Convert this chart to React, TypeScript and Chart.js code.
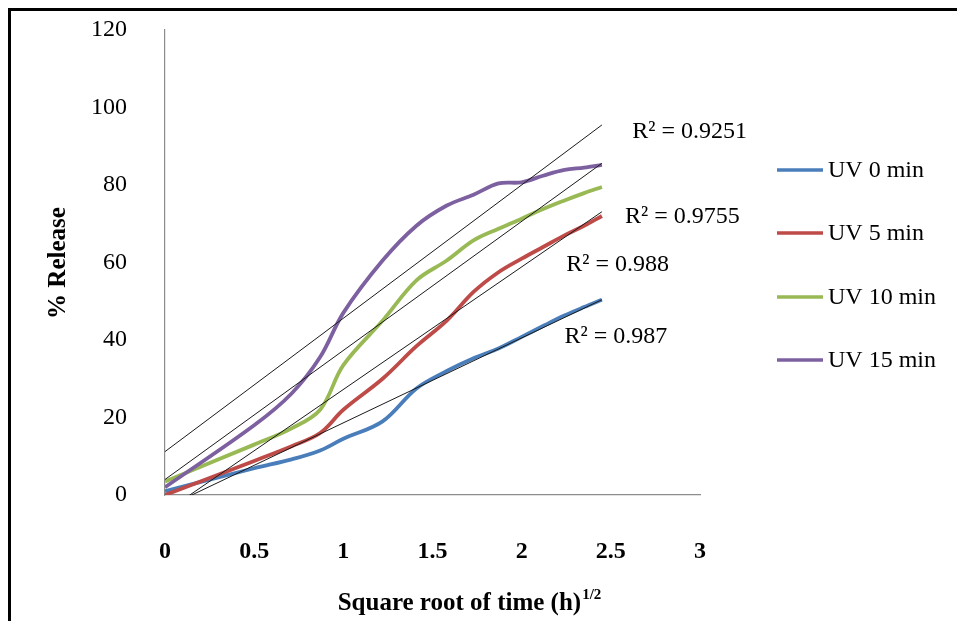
import React, { useEffect, useRef } from "react";
import { Chart, registerables } from "chart.js";

Chart.register(...registerables);

const SERIF = "'Times New Roman', 'Liberation Serif', serif";

// x = square root of time (h)^1/2
const xValues = [0, 0.5, 0.71, 0.87, 1, 1.22, 1.41, 1.58, 1.73, 1.87, 2, 2.12, 2.24, 2.35, 2.45];

const seriesNames = ["UV 0 min", "UV 5 min", "UV 10 min", "UV 15 min"];
const uv0 = [1, 6.9, 9.2, 11.5, 14.5, 19, 27.5, 32, 35.3, 37.8, 40.8, 43.6, 46.3, 48.5, 50.4];
const uv5 = [0, 8.8, 12.6, 16, 22, 30, 38.4, 45, 52.4, 57.5, 61, 64, 67, 69.5, 72];
const uv10 = [3.5, 13, 17.2, 22, 33.5, 45, 55.4, 60.5, 65.7, 68.7, 71.3, 73.8, 76, 77.9, 79.5];
const uv15 = [2, 18, 26.2, 35.6, 47, 60.5, 69.5, 74.7, 77.5, 80.4, 80.7, 82.4, 83.9, 84.5, 85.2];
const seriesColors = ["#4a7ebb", "#be4b48", "#98b954", "#7d60a0"];

// linear trend lines (endpoints)
const trendX = [0, 2.45];
const trendUv0 = [-3.3, 50.4];
const trendUv5 = [-4.4, 73.1];
const trendUv10 = [4.0, 85.6];
const trendUv15 = [11.2, 95.5];

const r2Texts = ["R² = 0.987", "R² = 0.988", "R² = 0.9755", "R² = 0.9251"];
const r2AnchorX = [2.24, 2.25, 2.58, 2.62];
const r2AnchorY = [40.9, 59.5, 71.9, 93.7];

const xTickMin = 0;
const xTickMax = 3;
const xTickStep = 0.5;
const yTickMin = 0;
const yTickMax = 120;
const yTickStep = 20;

const yTitle = "% Release";
const xTitle = "Square root of time (h)";
const xTitleSup = "1/2";

const toPoints = (xs: number[], ys: number[]) => xs.map((x, i) => ({ x, y: ys[i] }));

const overlayPlugin = {
  id: "overlay",
  afterDraw(chart: any) {
    const ctx = chart.ctx as CanvasRenderingContext2D;
    const xs = chart.scales.x;
    const ys = chart.scales.y;
    ctx.save();
    // R² labels
    ctx.fillStyle = "#000";
    ctx.font = `24px ${SERIF}`;
    ctx.textAlign = "left";
    ctx.textBaseline = "middle";
    r2Texts.forEach((t, i) => {
      ctx.fillText(t, xs.getPixelForValue(r2AnchorX[i]), ys.getPixelForValue(r2AnchorY[i]));
    });

    // legend
    const legendY = [159, 222, 286, 349];
    seriesNames.forEach((name, i) => {
      ctx.strokeStyle = seriesColors[i];
      ctx.lineWidth = 3.5;
      ctx.lineCap = "butt";
      ctx.beginPath();
      ctx.moveTo(766, legendY[i]);
      ctx.lineTo(812, legendY[i]);
      ctx.stroke();
      ctx.fillStyle = "#000";
      ctx.font = `24px ${SERIF}`;
      ctx.textAlign = "left";
      ctx.textBaseline = "middle";
      ctx.fillText(name, 817, legendY[i] + 1);
    });

    // y title
    ctx.save();
    ctx.translate(48, 252);
    ctx.rotate(-Math.PI / 2);
    ctx.font = `bold 25px ${SERIF}`;
    ctx.textAlign = "center";
    ctx.textBaseline = "middle";
    ctx.fillText(yTitle, 0, 0);
    ctx.restore();

    // x title with superscript
    ctx.font = `bold 25px ${SERIF}`;
    const w1 = ctx.measureText(xTitle).width;
    ctx.font = `bold 15px ${SERIF}`;
    const w2 = ctx.measureText(xTitleSup).width;
    const cx = 458;
    const startX = cx - (w1 + w2) / 2;
    ctx.textAlign = "left";
    ctx.textBaseline = "middle";
    ctx.font = `bold 25px ${SERIF}`;
    ctx.fillText(xTitle, startX, 593);
    ctx.font = `bold 15px ${SERIF}`;
    ctx.fillText(xTitleSup, startX + w1 + 1, 584);
    ctx.restore();
  },
};

export default function App() {
  const ref = useRef<HTMLCanvasElement | null>(null);

  useEffect(() => {
    if (!ref.current) return;
    const seriesData = [uv0, uv5, uv10, uv15];
    const trendData = [trendUv0, trendUv5, trendUv10, trendUv15];
    const seriesOrder = [4, 3, 2, 1];
    const datasets: any[] = [];
    trendData.forEach((t, i) => {
      datasets.push({
        label: "trend " + seriesNames[i],
        data: toPoints(trendX, t),
        borderColor: "#1a1a1a",
        borderWidth: 1,
        pointRadius: 0,
        tension: 0,
        order: 0,
        fill: false,
      });
    });
    seriesData.forEach((s, i) => {
      datasets.push({
        label: seriesNames[i],
        data: toPoints(xValues, s),
        borderColor: seriesColors[i],
        backgroundColor: seriesColors[i],
        borderWidth: 3.8,
        pointRadius: 0,
        tension: 0.35,
        order: seriesOrder[i],
        fill: false,
      });
    });

    const chart = new Chart(ref.current, {
      type: "line",
      data: { datasets },
      options: {
        animation: false,
        responsive: false,
        devicePixelRatio: 1,
        layout: { autoPadding: false, padding: { left: 0, top: 19, right: 265, bottom: 0 } },
        plugins: { legend: { display: false }, tooltip: { enabled: false } },
        scales: {
          x: {
            type: "linear",
            min: xTickMin,
            max: xTickMax,
            grid: { display: false, drawTicks: false },
            border: { display: true, color: "#8c8c8c", width: 1.2 },
            ticks: {
              stepSize: xTickStep,
              padding: 42,
              color: "#000",
              font: { family: SERIF, size: 24, weight: "bold" },
              maxRotation: 0,
              callback: (v: any) => String(Number(v)),
            },
            afterFit: (s: any) => {
              s.height = 126;
              s.paddingLeft = 0;
              s.paddingRight = 0;
              s.paddingTop = 0;
              s.paddingBottom = 0;
            },
          },
          y: {
            type: "linear",
            min: yTickMin,
            max: yTickMax,
            grid: { display: false, drawTicks: false },
            border: { display: true, color: "#8c8c8c", width: 1.2 },
            ticks: {
              stepSize: yTickStep,
              padding: 38,
              color: "#000",
              font: { family: SERIF, size: 24 },
            },
            afterFit: (s: any) => {
              s.width = 154;
              s.paddingTop = 0;
              s.paddingBottom = 0;
              s.paddingLeft = 0;
              s.paddingRight = 0;
            },
          },
        },
      },
      plugins: [overlayPlugin],
    } as any);
    return () => chart.destroy();
  }, []);

  return (
    <div
      style={{
        width: 957,
        height: 613,
        borderLeft: "3px solid #000",
        borderTop: "3px solid #000",
        boxSizing: "border-box",
        background: "#fff",
      }}
    >
      <canvas ref={ref} width={954} height={610} style={{ display: "block", width: 954, height: 610 }} />
    </div>
  );
}
